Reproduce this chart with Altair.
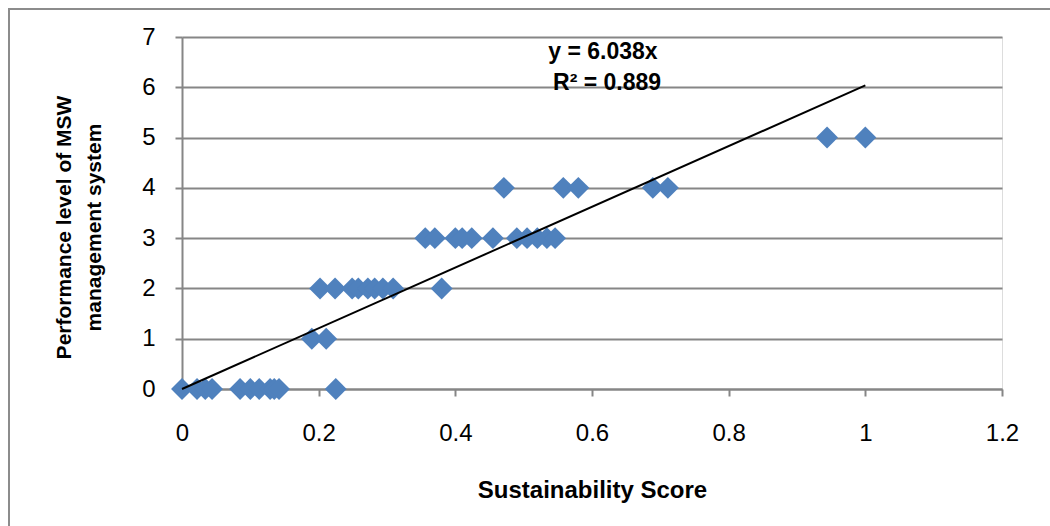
import altair as alt
import pandas as pd

# Sustainability score (x) and performance level (y)
x_vals = [0.0, 0.022, 0.034, 0.044, 0.085, 0.100, 0.113, 0.129, 0.135, 0.142, 0.225,
          0.190, 0.211,
          0.202, 0.224, 0.249, 0.258, 0.272, 0.282, 0.294, 0.309, 0.380,
          0.356, 0.370, 0.400, 0.410, 0.424, 0.455, 0.490, 0.505, 0.520, 0.534, 0.546,
          0.471, 0.558, 0.580, 0.689, 0.711,
          0.944, 1.0]
y_vals = [0] * 11 + [1] * 2 + [2] * 9 + [3] * 11 + [4] * 5 + [5] * 2

trend_x = [0, 1]
trend_y = [0, 6.038]

ann_x = [0.616, 0.622]
ann_y = [6.70, 6.08]
ann_text = ["y = 6.038x", "R² = 0.889"]

FONT = "Liberation Sans"
GRID = "#868686"

pts = pd.DataFrame({"x": x_vals, "y": y_vals})
trend = pd.DataFrame({"x": trend_x, "y": trend_y})
ann = pd.DataFrame({"x": ann_x, "y": ann_y, "t": ann_text})

xscale = alt.Scale(domain=[0, 1.2], nice=False)
yscale = alt.Scale(domain=[0, 7], nice=False)

xaxis = alt.Axis(values=[0, 0.2, 0.4, 0.6, 0.8, 1.0, 1.2], format="~g", title="Sustainability Score",
                 grid=False, domainColor=GRID, domainWidth=2, tickColor=GRID, tickWidth=2,
                 tickSize=7, labelFontSize=24, labelColor="#000", labelPadding=25,
                 titleFontSize=24, titleFontWeight="bold", titleColor="#000", titlePadding=33,
                 labelFont=FONT, titleFont=FONT, labelFlush=False)
yaxis = alt.Axis(values=list(range(8)), title=["Performance level of MSW", "management system"],
                 grid=True, gridColor=GRID, gridWidth=2, domainColor=GRID, domainWidth=2,
                 tickColor=GRID, tickWidth=2, tickSize=7, labelFontSize=24, labelColor="#000",
                 labelPadding=20, titleFontSize=21, titleFontWeight="bold", titleColor="#000",
                 titlePadding=37, labelFont=FONT, titleFont=FONT, titleLineHeight=30,
                 titleY=190)

border = alt.Chart(ann.head(1)).mark_rect(fill=None, stroke="#8c8c8c", strokeWidth=2).encode(
    x=alt.value(-173), x2=alt.value(900), y=alt.value(-28), y2=alt.value(600)
)

points = alt.Chart(pts).mark_point(shape="diamond", filled=True, size=480, color="#4F81BD",
                                   opacity=1).encode(
    x=alt.X("x:Q", scale=xscale, axis=xaxis),
    y=alt.Y("y:Q", scale=yscale, axis=yaxis),
)

line = alt.Chart(trend).mark_line(color="#000", strokeWidth=2).encode(
    x=alt.X("x:Q", scale=xscale), y=alt.Y("y:Q", scale=yscale)
)

text = alt.Chart(ann).mark_text(font=FONT, fontSize=23, fontWeight="bold", color="#000").encode(
    x=alt.X("x:Q", scale=xscale), y=alt.Y("y:Q", scale=yscale), text="t:N"
)

chart = alt.layer(border, points, line, text).properties(
    width=820, height=352,
    autosize=alt.AutoSizeParams(type="none"),
    padding={"left": 182, "top": 37, "right": 48, "bottom": 137},
).configure_view(stroke=None).configure(background="white")

chart.save("out.html", embed_options={"renderer": "svg", "actions": False})
